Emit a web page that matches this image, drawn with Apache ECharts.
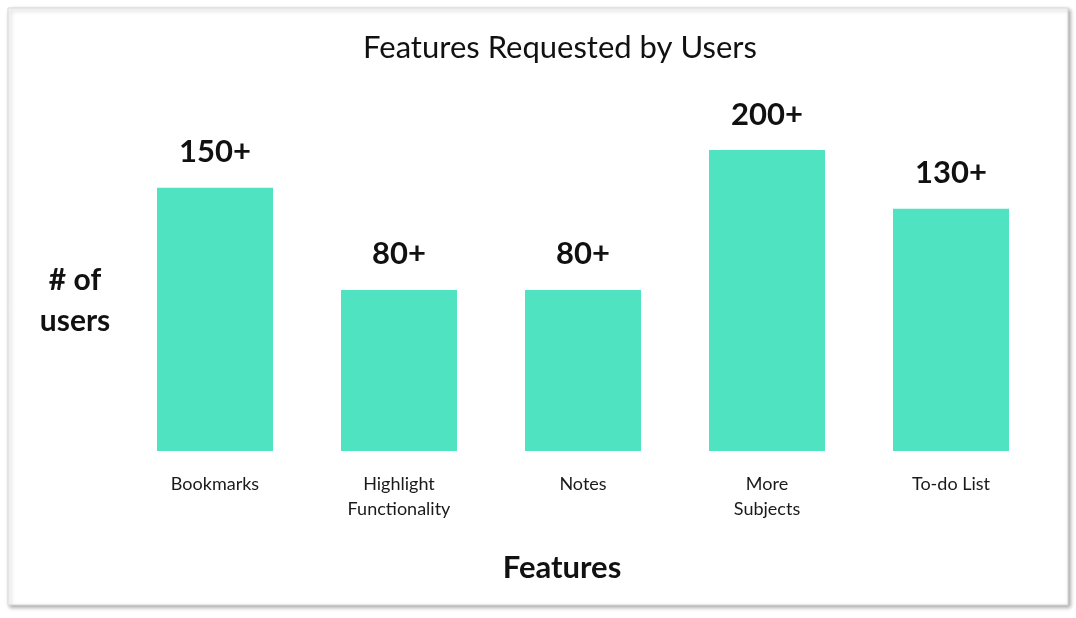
<!DOCTYPE html>
<html>
<head>
<meta charset="utf-8">
<script src="https://cdn.jsdelivr.net/npm/echarts@6/dist/echarts.min.js"></script>
<style>
html,body{margin:0;padding:0;background:#fff;}
#chart{width:1076px;height:618px;}
</style>
</head>
<body>
<div id="chart"></div>
<script>
const categories = ['Bookmarks', 'Highlight\nFunctionality', 'Notes', 'More\nSubjects', 'To-do List'];
// bar heights as drawn in the picture (relative to the 200+ bar)
const barValues = [175, 107, 107, 200, 161];
const valueLabels = ['150+', '80+', '80+', '200+', '130+'];

const chart = echarts.init(document.getElementById('chart'));
const FONT = 'Lato, "Open Sans", sans-serif';
chart.setOption({
  animation: false,
  graphic: [{
    type: 'rect', z: -10,
    shape: { x: 8, y: 8, width: 1060, height: 597 },
    style: { fill: '#fff', stroke: '#d8d8d8', lineWidth: 1,
      shadowBlur: 4, shadowOffsetX: 2, shadowOffsetY: 2, shadowColor: 'rgba(0,0,0,0.35)' }
  }],
  title: {
    text: 'Features Requested by Users',
    left: 555, top: 27, textAlign: 'center',
    textStyle: { fontFamily: FONT, fontSize: 31, fontWeight: 'normal', color: '#111' }
  },
  grid: { left: 123, right: 33, top: 150, bottom: 167, containLabel: false },
  xAxis: {
    type: 'category', data: categories,
    axisLine: { show: false }, axisTick: { show: false },
    axisLabel: { interval: 0, margin: 21, fontSize: 18, lineHeight: 25, color: '#1a1a1a', fontFamily: FONT },
    name: 'Features', nameLocation: 'middle', nameGap: 101,
    nameTextStyle: { fontFamily: FONT, fontSize: 31, fontWeight: 'bold', color: '#111', padding: [0, 42, 0, 0] }
  },
  yAxis: {
    type: 'value', min: 0, max: 200, show: true,
    axisLine: { show: false }, axisTick: { show: false }, axisLabel: { show: false }, splitLine: { show: false },
    name: '# of\nusers', nameLocation: 'middle', nameRotate: 0, nameGap: 48,
    nameTextStyle: { fontFamily: FONT, fontSize: 30, fontWeight: 'bold', color: '#111', lineHeight: 41, align: 'center' }
  },
  series: [{
    type: 'bar', data: barValues, barWidth: 116,
    itemStyle: { color: '#50E3C2' },
    label: {
      show: true, position: 'top', distance: 20,
      formatter: p => valueLabels[p.dataIndex],
      fontFamily: FONT, fontSize: 31, fontWeight: 'bold', color: '#111'
    }
  }]
});
</script>
</body>
</html>
